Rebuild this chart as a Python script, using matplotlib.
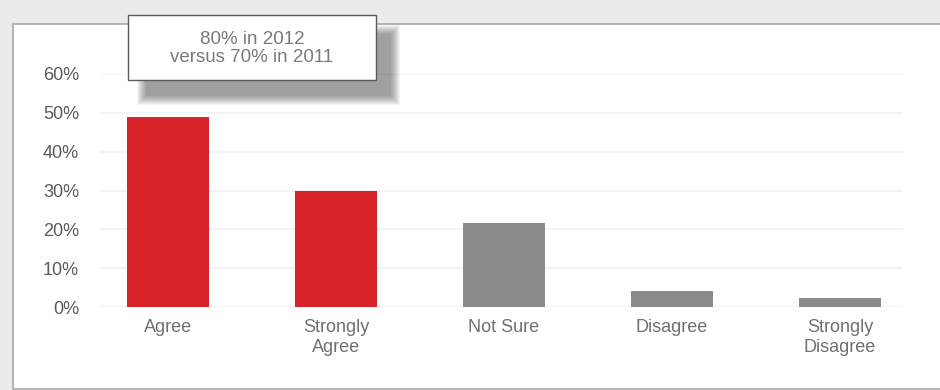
import matplotlib
matplotlib.use("Agg")
import matplotlib.pyplot as plt
from matplotlib.patches import Rectangle

categories = ["Agree", "Strongly\nAgree", "Not Sure", "Disagree", "Strongly\nDisagree"]
values = [49, 30, 21.6, 4.1, 2.2]
colors = ["#d82229", "#d82229", "#8b8b8b", "#8b8b8b", "#8b8b8b"]
yticks = [0, 10, 20, 30, 40, 50, 60]
ytick_labels = [f"{t}%" for t in yticks]
callout_text = "80% in 2012\nversus 70% in 2011"

W, H = 940, 390
plt.rcParams['font.family'] = ['Liberation Sans', 'DejaVu Sans']
fig = plt.figure(figsize=(W / 100, H / 100), dpi=100)
fig.patch.set_facecolor("#ebebeb")

def fx(x):
    return x / W

def fy(y):
    return 1 - y / H

# white panel with border
panel = Rectangle((fx(13), fy(389)), fx(940 - 13 + 5), (389 - 24) / H,
                  transform=fig.transFigure, facecolor="white",
                  edgecolor="#a8a8a8", linewidth=1.2, zorder=0)
fig.add_artist(panel)

ax = fig.add_axes([fx(100), fy(307), fx(903 - 100), (307 - 74) / H])
ax.set_facecolor("none")
x = list(range(len(categories)))
ax.bar(x, values, width=0.49, color=colors, zorder=3)
ax.set_xlim(-0.405, 4.375)
ax.set_ylim(0, 60)
ax.set_yticks(yticks)
ax.set_yticklabels(ytick_labels)
ax.set_xticks(x)
ax.set_xticklabels(categories, linespacing=1.2)
for s in ax.spines.values():
    s.set_visible(False)
ax.tick_params(axis="both", length=0, colors="#707070", labelsize=13)
ax.tick_params(axis="y", pad=15)
ax.tick_params(axis="x", pad=9)
for lab in ax.get_yticklabels():
    lab.set_color("#5a5a5a")
ax.yaxis.grid(True, color="#f3f3f3", linewidth=1.6, zorder=0)
ax.set_axisbelow(True)

# callout shadow (soft, offset down-right)
sx0, sy0, sx1, sy1 = 146, 34, 391, 96
for k in range(9, -1, -1):
    r = Rectangle((fx(sx0 - k), fy(sy1 + k)),
                  (sx1 - sx0 + 2 * k) / W, (sy1 - sy0 + 2 * k) / H,
                  transform=fig.transFigure, facecolor="black",
                  edgecolor="none", alpha=0.045, zorder=10)
    fig.add_artist(r)
bx0, by0, bx1, by1 = 128, 15, 376, 80
box = Rectangle((fx(bx0), fy(by1)), (bx1 - bx0) / W, (by1 - by0) / H,
                transform=fig.transFigure, facecolor="white",
                edgecolor="#5a5a5a", linewidth=1.0, zorder=11)
fig.add_artist(box)
fig.text(fx((bx0 + bx1) / 2), fy((by0 + by1) / 2 + 1), callout_text,
         ha="center", va="center", fontsize=13.5, color="#7a7a7a",
         linespacing=1.0, zorder=12)

fig.savefig("out.png", dpi=100, facecolor=fig.get_facecolor())
